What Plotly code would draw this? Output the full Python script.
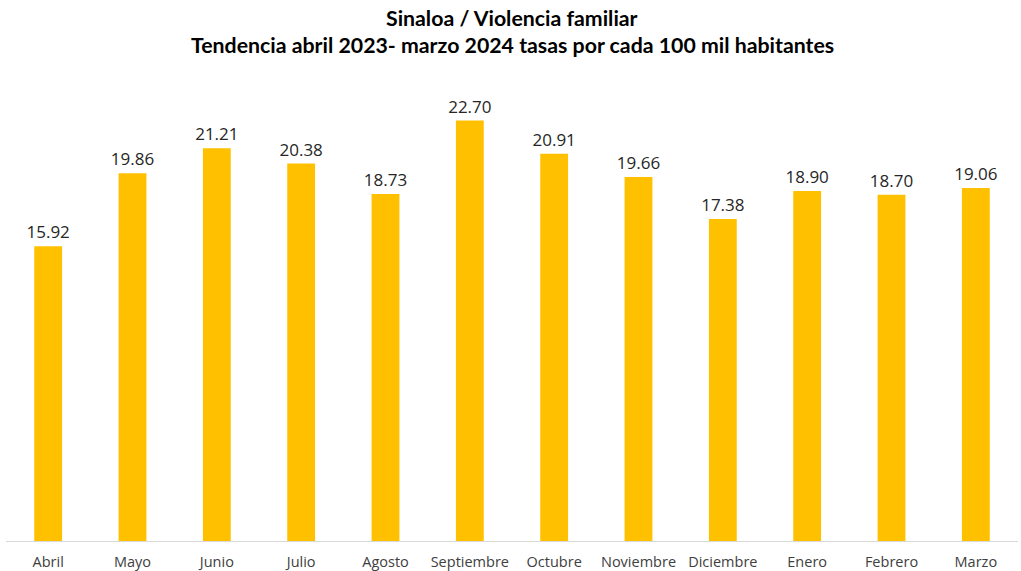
import plotly.graph_objects as go

months = ["Abril", "Mayo", "Junio", "Julio", "Agosto", "Septiembre", "Octubre",
          "Noviembre", "Diciembre", "Enero", "Febrero", "Marzo"]
rates = [15.92, 19.86, 21.21, 20.38, 18.73, 22.70, 20.91, 19.66, 17.38, 18.90, 18.70, 19.06]
labels = [f"{v:.2f}" for v in rates]

title_lines = ["Sinaloa / Violencia familiar",
               "Tendencia abril 2023- marzo 2024 tasas por cada 100 mil habitantes"]

fig = go.Figure(go.Bar(
    x=months, y=rates, text=labels, textposition="outside",
    constraintext="none",
    marker=dict(color="#FFC000", line=dict(width=0)),
    textfont=dict(family="Open Sans", size=17, color="#262626"),
    cliponaxis=False,
    hoverinfo="skip",
))

fig.update_layout(
    width=1021, height=571,
    margin=dict(l=6, r=3, t=78, b=30),
    paper_bgcolor="white", plot_bgcolor="white",
    bargap=0.67,
    showlegend=False,
    xaxis=dict(showline=True, linecolor="#D9D9D9", linewidth=1, ticks="",
               automargin=False, ticklabelstandoff=8,
               tickfont=dict(family="Open Sans", size=14.5, color="#404040")),
    yaxis=dict(range=[0, 25], visible=False, showgrid=False, automargin=False),
    annotations=[
        dict(text="<b>" + title_lines[0] + "</b>", xref="paper", yref="paper",
             x=0.5, y=1, xanchor="center", yanchor="middle", yshift=60,
             showarrow=False, font=dict(family="Lato", size=21.3, color="#000000")),
        dict(text="<b>" + title_lines[1] + "</b>", xref="paper", yref="paper",
             x=0.5, y=1, xanchor="center", yanchor="middle", yshift=33,
             showarrow=False, font=dict(family="Lato", size=21.3, color="#000000")),
    ],
)

fig.write_html("out.html", config={"displayModeBar": False},
               post_script="document.body.style.margin='0';document.body.style.padding='0';")
